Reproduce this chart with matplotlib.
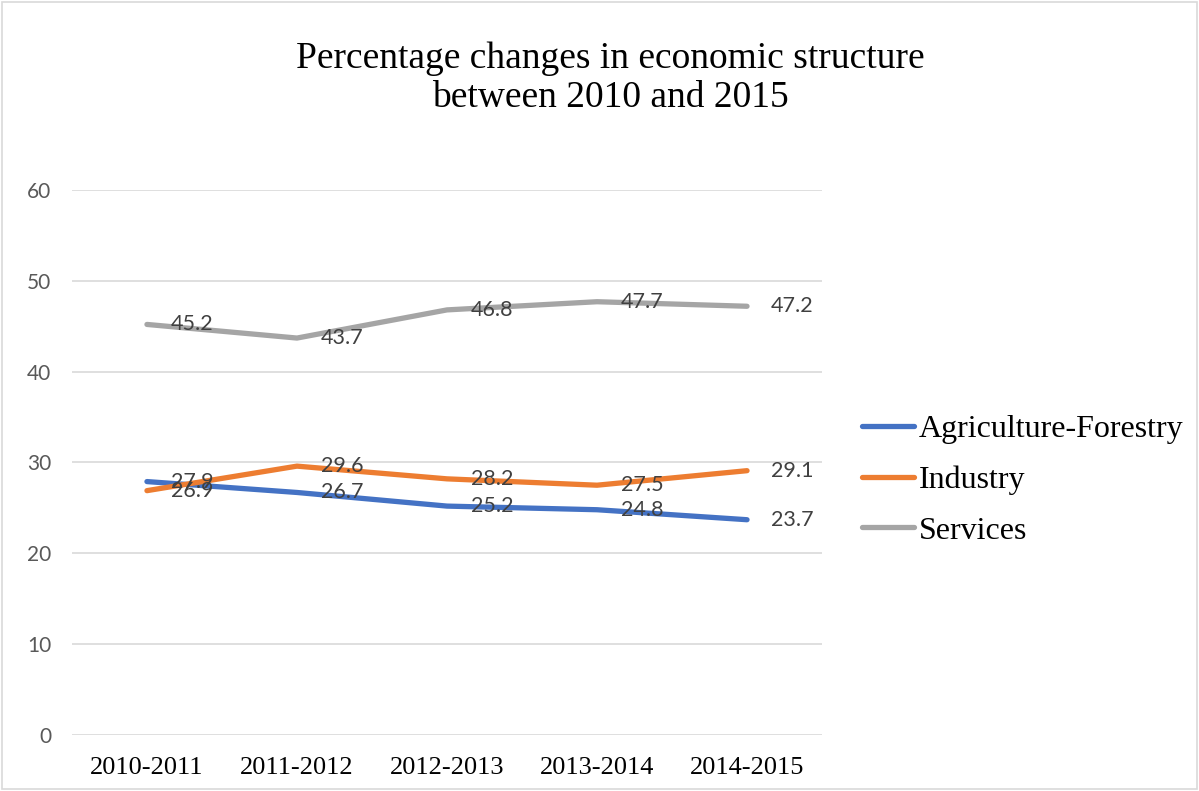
import matplotlib.pyplot as plt
from matplotlib.patches import Rectangle

# data
periods = ['2010-2011', '2011-2012', '2012-2013', '2013-2014', '2014-2015']
agriculture = [27.9, 26.7, 25.2, 24.8, 23.7]
industry = [26.9, 29.6, 28.2, 27.5, 29.1]
services = [45.2, 43.7, 46.8, 47.7, 47.2]

series_names = ['Agriculture-Forestry', 'Industry', 'Services']
series_colors = ['#4472C4', '#ED7D31', '#A5A5A5']

serif = 'Liberation Serif'
sans = 'Lato'

fig = plt.figure(figsize=(11.99, 7.91), dpi=100)
ax = fig.add_axes([0.060, 0.0708, 0.6256, 0.689])

x = list(range(len(periods)))
for vals, name, col in zip([agriculture, industry, services], series_names, series_colors):
    ax.plot(x, vals, color=col, lw=3.8, solid_capstyle='round', label=name, zorder=3)
    for xi, v in zip(x, vals):
        ax.annotate(f'{v:.1f}', (xi, v), xytext=(17, 0), textcoords='offset points',
                    ha='left', va='center', fontsize=15.5, family=sans, color='#404040', zorder=4)

ax.set_xlim(-0.5, len(periods) - 0.5)
ax.set_ylim(0, 60)
ax.set_yticks(range(0, 61, 10))
ax.set_xticks(x)
ax.set_xticklabels(periods, family=serif, fontsize=19, color='black')
for lab in ax.get_yticklabels():
    lab.set_family(sans)
    lab.set_fontsize(15)
    lab.set_color('#595959')
ax.tick_params(axis='y', length=0, pad=15)
ax.tick_params(axis='x', length=0, pad=16)
ax.grid(axis='y', color='#D9D9D9', lw=1.2)
ax.set_axisbelow(True)
for s in ax.spines.values():
    s.set_visible(False)

fig.text(0.509, 0.926, 'Percentage changes in economic structure', ha='center', va='center',
         family=serif, fontsize=27)
fig.text(0.509, 0.877, 'between 2010 and 2015', ha='center', va='center',
         family=serif, fontsize=27)

leg = fig.legend(loc='center left', bbox_to_anchor=(0.708, 0.393), frameon=False,
                 prop={'family': serif, 'size': 23}, handlelength=1.65, handletextpad=0.15,
                 labelspacing=0.67, borderaxespad=0)

fig.patches.append(Rectangle((0.002, 0.002), 0.996, 0.996, transform=fig.transFigure,
                             fill=False, edgecolor='#D9D9D9', lw=1.2))

fig.savefig('out.png', dpi=100)
